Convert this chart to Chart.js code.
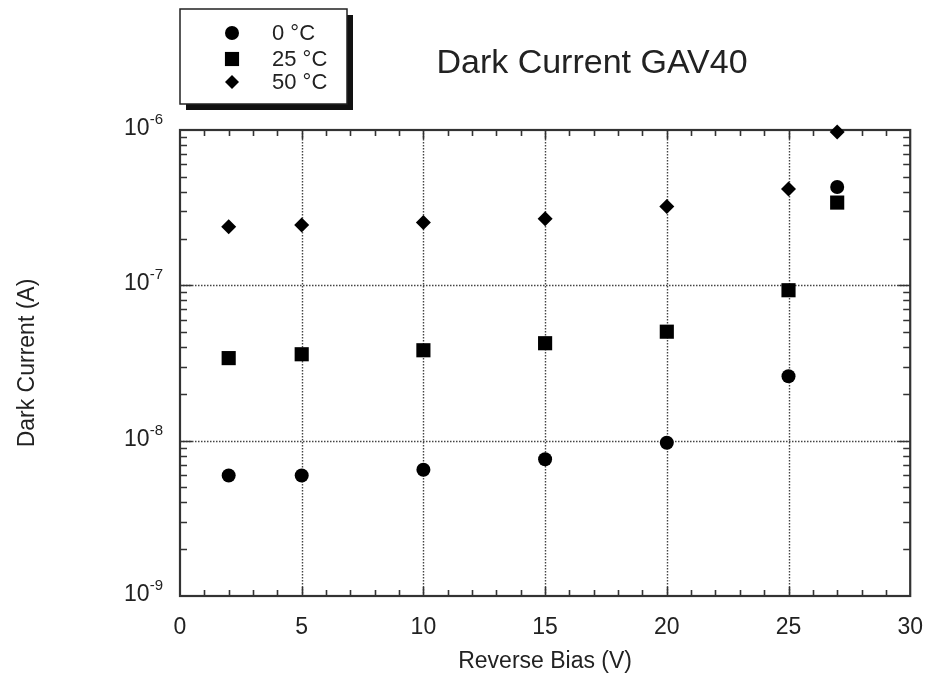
<!DOCTYPE html>
<html>
<head>
<meta charset="utf-8">
<script src="https://cdn.jsdelivr.net/npm/chart.js@4/dist/chart.umd.min.js"></script>
<style>
  html, body { margin: 0; padding: 0; background: #fff; }
  #wrap { width: 941px; height: 679px; position: relative; }
</style>
</head>
<body>
<div id="wrap"><canvas id="chart"></canvas></div>
<script>
// values
const biasVolts = [2, 5, 10, 15, 20, 25, 27];
const current0C = [5.97e-9, 5.97e-9, 6.5e-9, 7.6e-9, 9.7e-9, 2.6e-8, 4.3e-7];
const current25C = [3.4e-8, 3.6e-8, 3.82e-8, 4.24e-8, 5.03e-8, 9.3e-8, 3.41e-7];
const current50C = [2.38e-7, 2.45e-7, 2.54e-7, 2.68e-7, 3.22e-7, 4.17e-7, 9.7e-7];
const seriesNames = ["0 °C", "25 °C", "50 °C"];
const xTicks = [0, 5, 10, 15, 20, 25, 30];
const yDecades = [1e-9, 1e-8, 1e-7, 1e-6];

function toPoints(ys) {
  return biasVolts.map((x, i) => ({ x: x, y: ys[i] }));
}

const textColor = "#222";
const font = "'Liberation Sans', Arial, sans-serif";

// frame, dotted grid, inside ticks, legend and title drawn like the old plot
const framePlugin = {
  id: "frame",
  beforeDatasetsDraw(chart) {
    const { ctx, chartArea: a, scales } = chart;
    const xs = scales.x, ys = scales.y;
    ctx.save();
    ctx.strokeStyle = "#444";
    ctx.lineWidth = 1.4;
    ctx.setLineDash([1.5, 1.5]);
    xTicks.slice(1, -1).forEach((v) => {
      const px = Math.round(xs.getPixelForValue(v)) + 0.5;
      ctx.beginPath();
      ctx.moveTo(px, a.top);
      ctx.lineTo(px, a.bottom);
      ctx.stroke();
    });
    yDecades.slice(1, -1).forEach((v) => {
      const py = Math.round(ys.getPixelForValue(v)) + 0.5;
      ctx.beginPath();
      ctx.moveTo(a.left, py);
      ctx.lineTo(a.right, py);
      ctx.stroke();
    });
    ctx.setLineDash([]);
    ctx.strokeStyle = "#333";
    ctx.lineWidth = 1.6;
    // x ticks every volt
    for (let v = 1; v < 30; v++) {
      const px = Math.round(xs.getPixelForValue(v)) + 0.5;
      const len = v % 5 === 0 ? 9 : 6;
      ctx.beginPath();
      ctx.moveTo(px, a.bottom);
      ctx.lineTo(px, a.bottom - len);
      ctx.moveTo(px, a.top);
      ctx.lineTo(px, a.top + len);
      ctx.stroke();
    }
    // y ticks 1..9 per decade
    for (let e = -9; e < -6; e++) {
      for (let m = 1; m <= 9; m++) {
        if (e === -9 && m === 1) continue;
        const py = Math.round(ys.getPixelForValue(m * Math.pow(10, e))) + 0.5;
        const len = m === 1 ? 12 : 7;
        ctx.beginPath();
        ctx.moveTo(a.left, py);
        ctx.lineTo(a.left + len, py);
        ctx.moveTo(a.right, py);
        ctx.lineTo(a.right - len, py);
        ctx.stroke();
      }
    }
    ctx.lineWidth = 2.2;
    ctx.strokeRect(a.left, a.top, a.right - a.left, a.bottom - a.top);

    // y labels as 10 with raised exponent
    ctx.fillStyle = textColor;
    ctx.textBaseline = "alphabetic";
    yDecades.forEach((v) => {
      const py = ys.getPixelForValue(v);
      const exp = String(Math.round(Math.log10(v)));
      ctx.font = "15px " + font;
      const ew = ctx.measureText(exp).width;
      ctx.textAlign = "right";
      ctx.fillText(exp, 163, py - 6);
      ctx.font = "23px " + font;
      ctx.fillText("10", 163 - ew, py + 5);
    });
    ctx.restore();
  },
  afterDraw(chart) {
    const { ctx } = chart;
    ctx.save();
    // title
    ctx.fillStyle = textColor;
    ctx.font = "34px " + font;
    ctx.textAlign = "center";
    ctx.textBaseline = "middle";
    ctx.fillText("Dark Current GAV40", 592, 64);

    // legend box with drop shadow
    const bx = 180, by = 9, bw = 167, bh = 95;
    ctx.fillStyle = "#111";
    ctx.fillRect(bx + 6, by + 6, bw, bh);
    ctx.fillStyle = "#fff";
    ctx.fillRect(bx, by, bw, bh);
    ctx.strokeStyle = "#222";
    ctx.lineWidth = 1.5;
    ctx.strokeRect(bx, by, bw, bh);
    const rows = [33, 59, 82];
    chart.data.datasets.forEach((ds, i) => {
      ctx.fillStyle = "#000";
      ctx.strokeStyle = "#000";
      Chart.helpers.drawPoint(ctx, {
        pointStyle: ds.pointStyle,
        radius: ds.pointStyle === "rect" ? 10 : 7,
        rotation: 0,
        borderWidth: 0
      }, 232, rows[i]);
      ctx.fillStyle = textColor;
      ctx.font = "22px " + font;
      ctx.textAlign = "left";
      ctx.textBaseline = "middle";
      ctx.fillText(seriesNames[i], 272, rows[i] + 1);
    });
    ctx.restore();
  }
};

function makeSet(i, ys, style, r) {
  return {
    label: seriesNames[i],
    data: toPoints(ys),
    pointStyle: style,
    pointRadius: r,
    pointHoverRadius: r,
    backgroundColor: "#000",
    borderColor: "#000",
    borderWidth: 0,
    showLine: false,
    clip: false
  };
}

new Chart(document.getElementById("chart"), {
  type: "scatter",
  data: {
    datasets: [
      makeSet(0, current0C, "circle", 7),
      makeSet(1, current25C, "rect", 10),
      makeSet(2, current50C, "rectRot", 7.5)
    ]
  },
  options: {
    responsive: true,
    maintainAspectRatio: false,
    animation: false,
    layout: { padding: { top: 130, right: 30, left: 0, bottom: 0 } },
    plugins: {
      legend: { display: false },
      tooltip: { enabled: false }
    },
    scales: {
      x: {
        type: "linear",
        min: 0,
        max: 30,
        afterFit: (s) => { s.height = 83; },
        afterBuildTicks: (s) => { s.ticks = xTicks.map((v) => ({ value: v })); },
        grid: { display: false, drawTicks: false },
        border: { display: false },
        ticks: {
          color: textColor,
          font: { family: font, size: 23 },
          padding: 18
        },
        title: {
          display: true,
          text: "Reverse Bias (V)",
          color: textColor,
          font: { family: font, size: 23 },
          padding: { top: 0, bottom: 4 }
        }
      },
      y: {
        type: "logarithmic",
        min: 1e-9,
        max: 1e-6,
        afterFit: (s) => { s.width = 180; },
        grid: { display: false, drawTicks: false },
        border: { display: false },
        ticks: { display: false },
        title: {
          display: true,
          text: "Dark Current (A)",
          color: textColor,
          font: { family: font, size: 23 },
          padding: { top: 14, bottom: 0 }
        }
      }
    }
  },
  plugins: [framePlugin]
});
</script>
</body>
</html>
